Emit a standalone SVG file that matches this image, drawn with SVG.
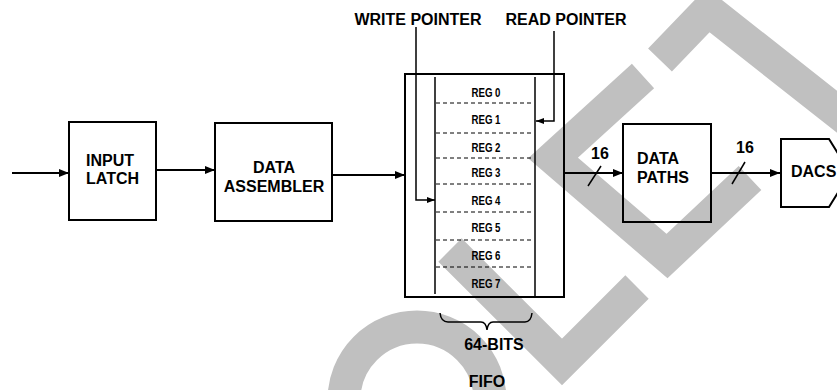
<svg xmlns="http://www.w3.org/2000/svg" width="837" height="390" viewBox="0 0 837 390">
<style>
.wm{fill:none;stroke:#c0c0c0;stroke-width:33;stroke-linejoin:miter;stroke-linecap:butt}
.box{fill:none;stroke:#000;stroke-width:2}
.ln{fill:none;stroke:#000;stroke-width:2}
.thin{fill:none;stroke:#000;stroke-width:1.5}
.dash{fill:none;stroke:#000;stroke-width:1;stroke-dasharray:4,3}
.t{font-family:"Liberation Sans",Arial,sans-serif;font-weight:bold;font-size:16px;fill:#000}
.r{font-family:"Liberation Sans",Arial,sans-serif;font-weight:bold;font-size:12px;fill:#000;text-anchor:middle}
</style>
<defs>
<marker id="ah" markerWidth="10" markerHeight="8" refX="10" refY="4" orient="auto" markerUnits="userSpaceOnUse"><path d="M0,0 L10,4 L0,8 z" fill="#000"/></marker>
<marker id="ahs" markerWidth="8" markerHeight="6" refX="8" refY="3" orient="auto" markerUnits="userSpaceOnUse"><path d="M0,0 L8,3 L0,6 z" fill="#000"/></marker>
</defs>
<rect width="837" height="390" fill="#fff"/>
<g id="watermark">
<circle class="wm" cx="417" cy="400" r="73" stroke-width="30"/>
<polyline class="wm" points="450,250 562,362 637,287"/>
<polyline class="wm" points="643,76 553,158 667,256 750,178"/>
<polyline class="wm" points="660,60 708,10 860,130"/>
</g>
<g id="connectors">
<line class="ln" x1="12" y1="173" x2="69" y2="173" marker-end="url(#ah)"/>
<line class="ln" x1="156" y1="170" x2="215" y2="170" marker-end="url(#ah)"/>
<line class="ln" x1="332" y1="175" x2="405" y2="175" marker-end="url(#ah)"/>
<polyline class="thin" points="416,27 416,200 435,200" marker-end="url(#ahs)"/>
<polyline class="thin" points="554,31 554,121 536,121" marker-end="url(#ahs)"/>
<line class="ln" x1="564" y1="173" x2="623" y2="173" marker-end="url(#ah)"/>
<line class="thin" x1="588" y1="186" x2="601" y2="166"/>
<line class="ln" x1="711" y1="173" x2="780" y2="173" marker-end="url(#ah)"/>
<line class="thin" x1="732" y1="184" x2="745" y2="162"/>
</g>
<g id="input-latch">
<rect class="box" x="69" y="122" width="87" height="98"/>
<text class="t" x="86" y="166">INPUT</text>
<text class="t" x="86" y="184">LATCH</text>
</g>
<g id="data-assembler">
<rect class="box" x="215" y="123" width="117" height="98"/>
<text class="t" x="274" y="173" text-anchor="middle">DATA</text>
<text class="t" x="274" y="192" text-anchor="middle">ASSEMBLER</text>
</g>
<g id="fifo">
<rect class="box" x="405" y="74" width="159" height="223"/>
<line class="thin" x1="435" y1="77" x2="435" y2="294"/>
<line class="thin" x1="535" y1="77" x2="535" y2="297"/>
<line class="dash" x1="436" y1="103" x2="534" y2="103"/>
<line class="dash" x1="436" y1="133" x2="534" y2="133"/>
<line class="dash" x1="436" y1="158" x2="534" y2="158"/>
<line class="dash" x1="436" y1="184" x2="534" y2="184"/>
<line class="dash" x1="436" y1="212" x2="534" y2="212"/>
<line class="dash" x1="436" y1="240" x2="534" y2="240"/>
<line class="dash" x1="436" y1="267" x2="534" y2="267"/>
<text class="r" x="486" y="97" textLength="29" lengthAdjust="spacingAndGlyphs">REG 0</text>
<text class="r" x="486" y="124" textLength="29" lengthAdjust="spacingAndGlyphs">REG 1</text>
<text class="r" x="486" y="152" textLength="29" lengthAdjust="spacingAndGlyphs">REG 2</text>
<text class="r" x="486" y="177" textLength="29" lengthAdjust="spacingAndGlyphs">REG 3</text>
<text class="r" x="486" y="205" textLength="29" lengthAdjust="spacingAndGlyphs">REG 4</text>
<text class="r" x="486" y="232" textLength="29" lengthAdjust="spacingAndGlyphs">REG 5</text>
<text class="r" x="486" y="260" textLength="29" lengthAdjust="spacingAndGlyphs">REG 6</text>
<text class="r" x="486" y="288" textLength="29" lengthAdjust="spacingAndGlyphs">REG 7</text>
<path class="thin" d="M440,313 Q441,322 448,322 L481,322 Q486,322 487,330 Q488,322 493,322 L525,322 Q531,322 532,313"/>
<text class="t" x="494" y="350" text-anchor="middle">64-BITS</text>
<text class="t" x="487" y="387" text-anchor="middle">FIFO</text>
</g>
<g id="pointer-labels">
<text class="t" x="418" y="25" text-anchor="middle">WRITE POINTER</text>
<text class="t" x="566" y="25" text-anchor="middle">READ POINTER</text>
</g>
<g id="labels-16">
<text class="t" x="600" y="159" text-anchor="middle">16</text>
<text class="t" x="745" y="153" text-anchor="middle">16</text>
</g>
<g id="data-paths">
<rect class="box" x="623" y="124" width="88" height="98"/>
<text class="t" x="637" y="164">DATA</text>
<text class="t" x="637" y="183">PATHS</text>
</g>
<g id="dacs">
<path class="box" d="M781,139 L829,139 L850,173 L829,207 L781,207 Z"/>
<text class="t" x="791" y="177">DACS</text>
</g>
</svg>
